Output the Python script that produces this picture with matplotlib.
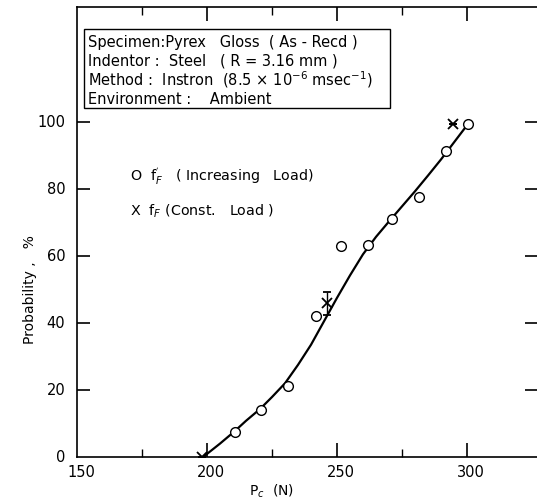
import matplotlib
matplotlib.use("Agg")
import matplotlib.pyplot as plt
from matplotlib.ticker import FixedLocator

plt.rcParams['font.family'] = ['DejaVu Sans']

# Data
inc_load_x = [210.6, 220.8, 231.0, 241.9, 251.7, 261.9, 271.2, 281.7, 292.0, 300.5]
inc_load_y = [7.4, 14.1, 21.1, 42.0, 63.1, 63.4, 71.0, 77.7, 91.3, 99.3]
const_load_x = [198.1, 246.2, 294.8]
const_load_y = [0, 45.9, 99.5]
const_err_lo = [0, 3.5, 0]
const_err_hi = [0, 3.4, 0]
curve_x = [198.5, 205, 210.5, 215, 220.5, 225, 230, 235, 240, 245, 250, 255,
           260, 265, 270, 275, 280, 285, 290, 295, 300]
curve_y = [0, 4.0, 7.6, 10.8, 14.4, 17.9, 22.0, 27.5, 33.5, 40.5, 47.5, 54.2,
           60.5, 65.7, 70.3, 74.8, 79.3, 84.0, 88.8, 93.9, 99.0]

x_major = [200, 250, 300]
x_minor = [175, 225, 275]
x_labels = ["150", "200", "250", "300"]
y_ticks = [20, 40, 60, 80, 100]
y_labels = ["0", "20", "40", "60", "80", "100"]

L = 77
fig = plt.figure(figsize=(5.37, 5.02), dpi=100)
ax = fig.add_axes([L/537, 1-458/502, 1-L/537, (458-8)/502])
ax.set_xlim(150, 150 + (537-L)/2.6)
ax.set_ylim(0, 134.3)

ax.plot(curve_x, curve_y, color='black', lw=1.6, zorder=2, solid_joinstyle='round')
ax.plot(inc_load_x, inc_load_y, 'o', ms=7, mfc='white', mec='black', mew=1.0, zorder=3)
ax.errorbar(const_load_x, const_load_y, yerr=[const_err_lo, const_err_hi], fmt='x',
            color='black', ms=7, mew=1.3, elinewidth=1.0, capsize=3, zorder=4)

for s in ['left', 'bottom', 'top']:
    ax.spines[s].set_linewidth(1.2)
ax.spines['right'].set_visible(False)

ax.xaxis.set_major_locator(FixedLocator(x_major))
ax.xaxis.set_minor_locator(FixedLocator(x_minor))
ax.set_xticklabels([])
ax.yaxis.set_major_locator(FixedLocator(y_ticks))
ax.set_yticklabels([])
ax.tick_params(axis='x', which='major', direction='in', length=10, width=1.2, top=True, bottom=True)
ax.tick_params(axis='x', which='minor', direction='in', length=6, width=1.0, top=True, bottom=True)
ax.tick_params(axis='y', which='major', direction='in', length=9, width=1.2, left=True, right=True)

# tick labels as text
xpos = [150, 200, 250, 300]
for xv, lab in zip(xpos, x_labels):
    ax.text(xv + 1.5, -2.2, lab, ha='center', va='top', fontsize=10.5, clip_on=False)
for yv, lab in zip([0] + y_ticks, y_labels):
    ax.text(145.5, yv, lab, ha='right', va='center', fontsize=10.5, clip_on=False)

fig.text(30/537, 1-290/502, "Probability ,   %", rotation=90, ha='center', va='center', fontsize=10)
fig.text(272/537, 1-491/502, r"P$_c$  (N)", ha='center', va='center', fontsize=10)

# specimen box
box_lines = [
    "Specimen:Pyrex   Gloss  ( As - Recd )",
    "Indentor :  Steel   ( R = 3.16 mm )",
    r"Method :  Instron  (8.5 $\times$ 10$^{-6}$ msec$^{-1}$)",
    "Environment :    Ambient",
]
ax.add_patch(plt.Rectangle((84/537, 1-109/502), (390-84)/537, (109-30)/502,
                           transform=fig.transFigure, fill=False, lw=1.0, ec='black', clip_on=False))
for t, yp in zip(box_lines, [43, 61, 80, 99]):
    fig.text(88/537, 1-yp/502, t, ha='left', va='center', fontsize=10.5)

fig.text(130/537, 1-176/502, r"O  f$_F^{'}$   ( Increasing   Load)", ha='left', va='center', fontsize=10.3)
fig.text(130/537, 1-211/502, r"X  f$_F$ (Const.   Load )", ha='left', va='center', fontsize=10.3)

fig.savefig("out.png", dpi=100)
